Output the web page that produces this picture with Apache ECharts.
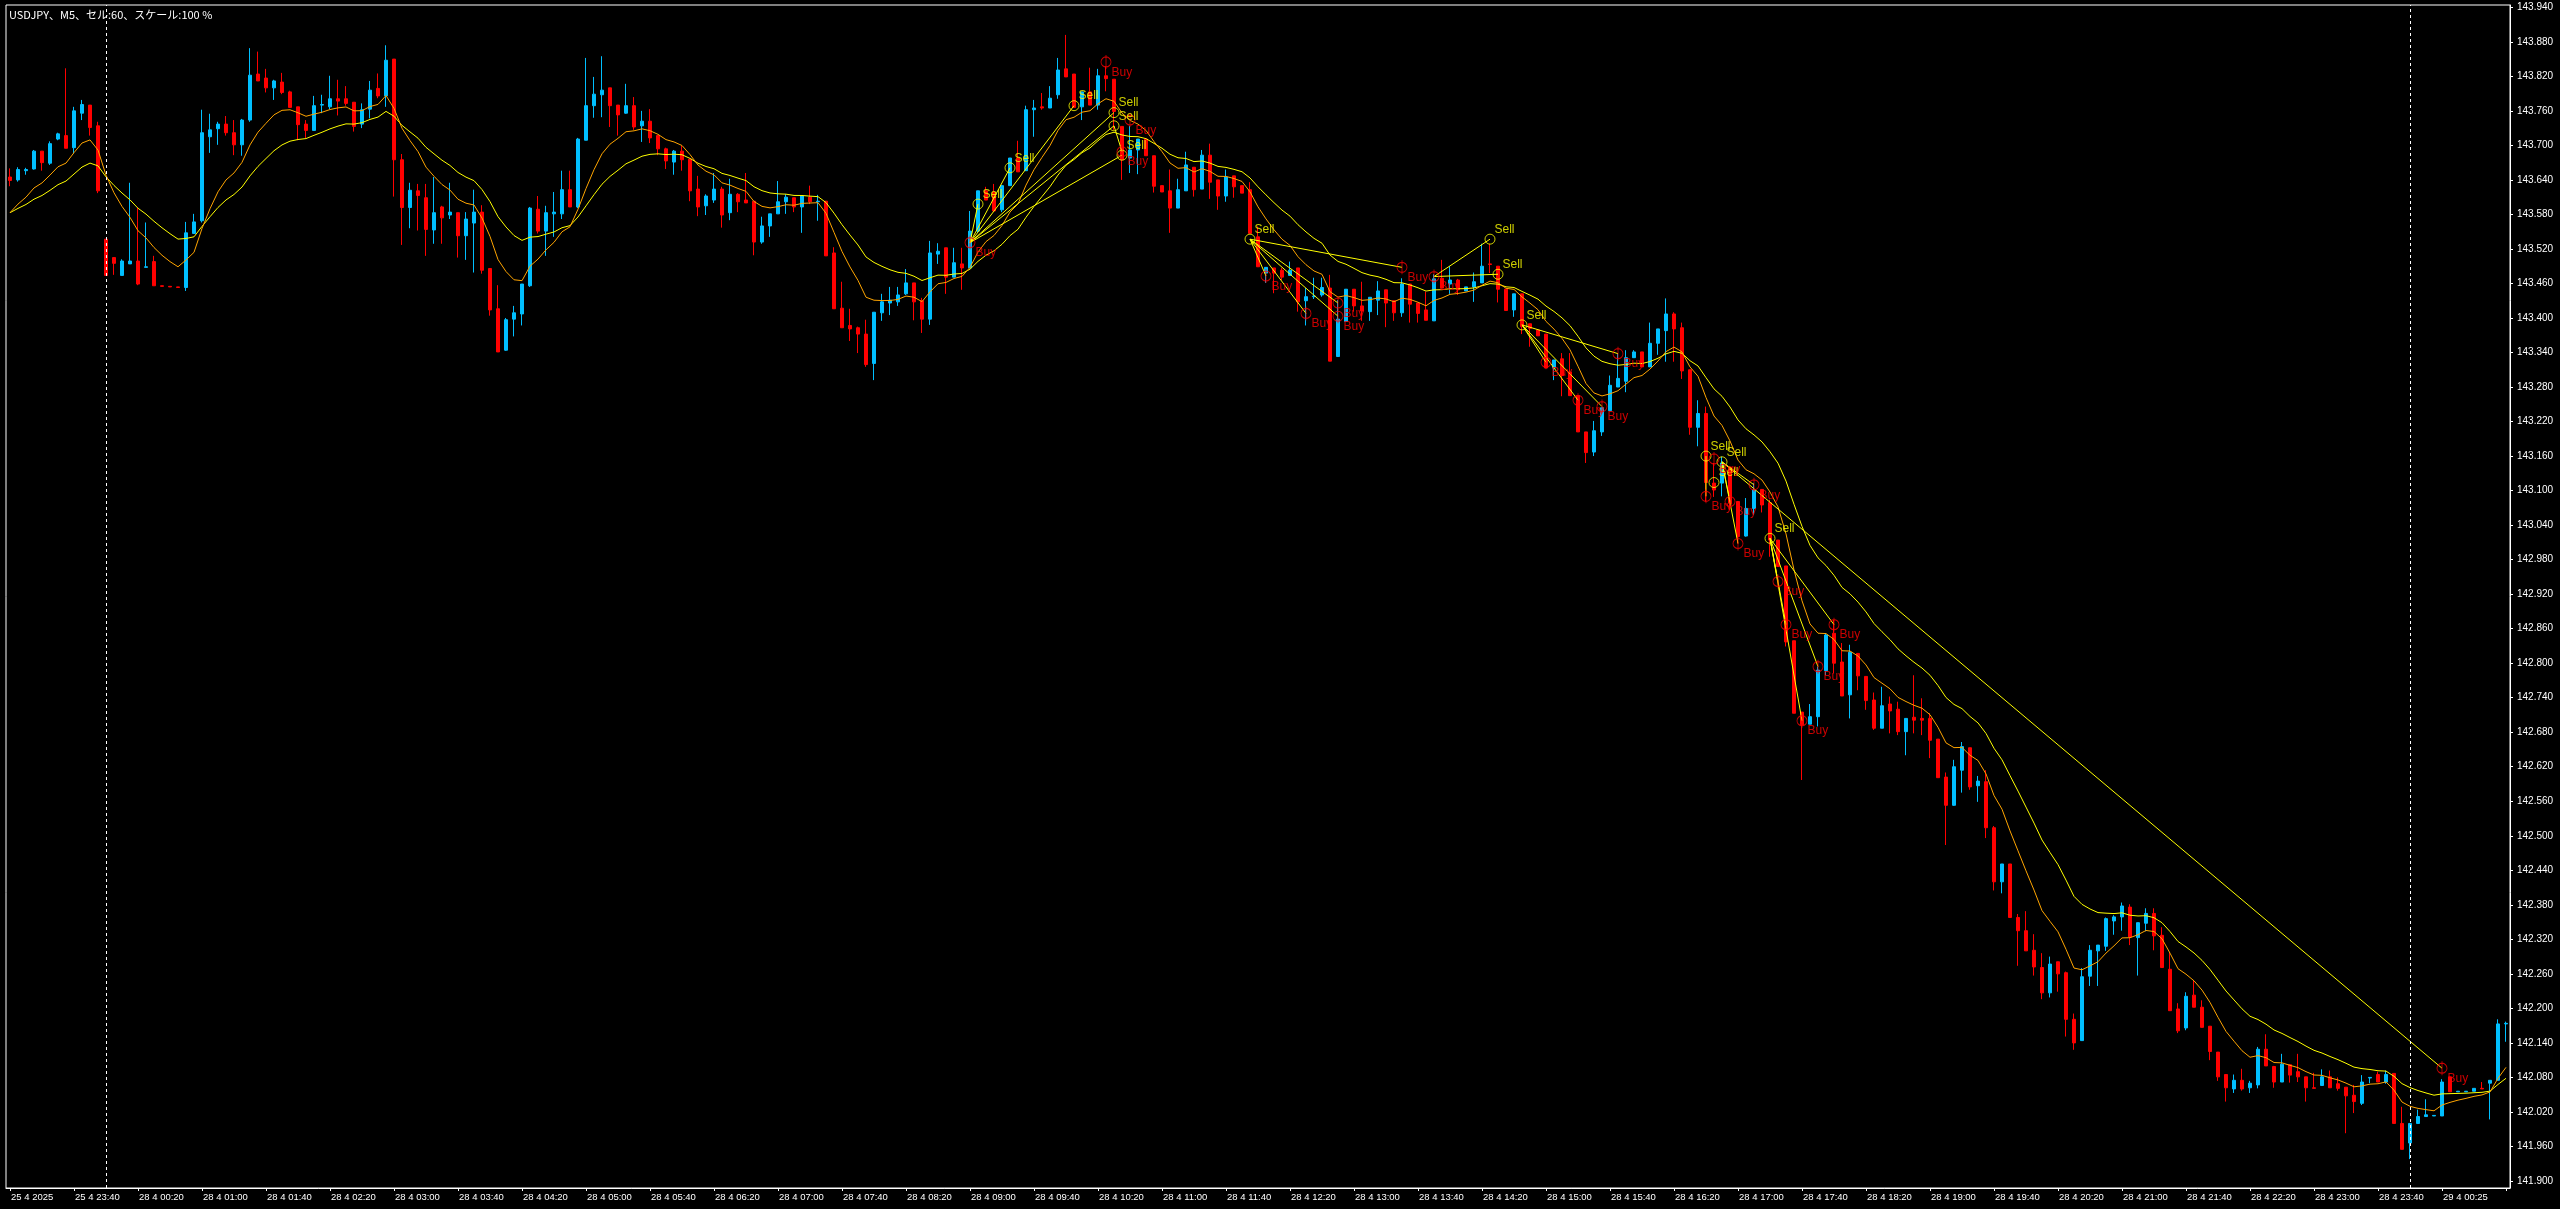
<!DOCTYPE html>
<html><head><meta charset="utf-8">
<script src="https://cdn.jsdelivr.net/npm/echarts@6.0.0/dist/echarts.min.js"></script>
<style>html,body{margin:0;padding:0;background:#000;overflow:hidden}#c{width:2560px;height:1209px}</style>
</head><body><div id="c"></div>
<script>
const titleText = 'USDJPY、M5、セル:60、スケール:100 %';
const tickLabels = ['25 4 2025','25 4 23:40','28 4 00:20','28 4 01:00','28 4 01:40','28 4 02:20','28 4 03:00','28 4 03:40','28 4 04:20','28 4 05:00','28 4 05:40','28 4 06:20','28 4 07:00','28 4 07:40','28 4 08:20','28 4 09:00','28 4 09:40','28 4 10:20','28 4 11:00','28 4 11:40','28 4 12:20','28 4 13:00','28 4 13:40','28 4 14:20','28 4 15:00','28 4 15:40','28 4 16:20','28 4 17:00','28 4 17:40','28 4 18:20','28 4 19:00','28 4 19:40','28 4 20:20','28 4 21:00','28 4 21:40','28 4 22:20','28 4 23:00','28 4 23:40','29 4 00:25'];
const priceTicks = [141.900,141.960,142.020,142.080,142.140,142.200,142.260,142.320,142.380,142.440,142.500,142.560,142.620,142.680,142.740,142.800,142.860,142.920,142.980,143.040,143.100,143.160,143.220,143.280,143.340,143.400,143.460,143.520,143.580,143.640,143.700,143.760,143.820,143.880,143.940];

const opens = [
143.645,143.640,143.656,143.659,143.690,143.669,143.711,143.717,143.696,143.756,
143.770,143.734,143.537,143.505,143.474,143.494,143.499,143.488,143.498,143.456,
143.455,143.454,143.453,143.547,143.569,143.715,143.729,143.737,143.722,143.701,
143.744,143.824,143.817,143.800,143.810,143.793,143.767,143.737,143.726,143.770,
143.767,143.781,143.781,143.775,143.737,143.763,143.799,143.786,143.850,143.675,
143.592,143.621,143.609,143.553,143.593,143.579,143.583,143.543,143.565,143.584,
143.486,143.416,143.344,143.398,143.407,143.456,143.589,143.551,143.581,143.581,
143.623,143.593,143.709,143.769,143.788,143.800,143.770,143.756,143.769,143.734,
143.742,143.717,143.694,143.671,143.690,143.676,143.624,143.595,143.605,143.624,
143.583,143.615,143.605,143.603,143.532,143.560,143.581,143.602,143.609,143.593,
143.610,143.602,143.603,143.513,143.417,143.387,143.383,143.372,143.321,143.409,
143.426,143.428,143.442,143.461,143.430,143.398,143.511,143.522,143.471,143.494,
143.487,143.551,143.621,143.619,143.588,143.630,143.678,143.656,143.762,143.767,
143.765,143.788,143.833,143.824,143.767,143.793,143.770,143.821,143.815,143.733,
143.678,143.692,143.711,143.682,143.630,143.621,143.591,143.621,143.662,143.624,
143.683,143.640,143.612,143.647,143.630,143.623,143.541,143.478,143.487,143.483,
143.474,143.487,143.430,143.437,143.440,143.452,143.333,143.394,143.450,143.421,
143.411,143.431,143.449,143.430,143.409,143.459,143.426,143.414,143.395,143.469,
143.459,143.466,143.447,143.454,143.461,143.494,143.490,143.450,143.414,143.442,
143.390,143.379,143.372,143.313,143.329,143.306,143.265,143.202,143.167,143.202,
143.239,143.280,143.290,143.331,143.341,143.315,143.356,143.378,143.407,143.383,
143.310,143.210,143.234,143.113,143.113,143.141,143.081,143.021,143.069,143.102,
143.079,143.014,142.969,142.839,142.715,142.694,142.707,142.787,142.852,142.802,
142.745,142.817,142.777,142.736,142.687,142.729,142.720,142.681,142.706,142.704,
142.704,142.668,142.602,142.553,142.614,142.653,142.587,142.594,142.514,142.420,
142.451,142.358,142.335,142.301,142.271,142.227,142.281,142.262,142.181,142.144,
142.256,142.300,142.308,142.352,142.359,142.376,142.323,142.348,142.365,142.327,
142.268,142.199,142.166,142.223,142.202,142.169,142.124,142.085,142.060,142.075,
142.062,142.067,142.129,142.099,142.072,142.102,142.090,142.081,142.062,142.066,
142.081,142.069,142.063,142.049,142.035,142.079,142.085,142.072,142.087,142.000,
141.966,142.000,142.012,142.013,142.013,142.081,142.055,142.055,142.056,142.061,
142.070,142.075,142.173];

const highs = [
143.660,143.662,143.661,143.692,143.690,143.707,143.722,143.834,143.767,143.779,
143.770,143.741,143.537,143.505,143.502,143.635,143.592,143.566,143.508,143.456,
143.455,143.454,143.567,143.581,143.762,143.755,143.741,143.751,143.744,143.746,
143.869,143.863,143.833,143.814,143.826,143.795,143.767,143.744,143.786,143.788,
143.821,143.814,143.803,143.775,143.773,143.812,143.825,143.874,143.850,143.685,
143.635,143.633,143.633,143.645,143.595,143.635,143.583,143.584,143.623,143.596,
143.486,143.457,143.400,143.421,143.459,143.593,143.612,143.595,143.619,143.656,
143.656,143.713,143.852,143.819,143.855,143.800,143.770,143.807,143.784,143.760,
143.763,143.717,143.696,143.692,143.699,143.676,143.647,143.615,143.652,143.628,
143.642,143.617,143.652,143.603,143.576,143.581,143.638,143.615,143.609,143.612,
143.630,143.614,143.603,143.523,143.463,143.416,143.385,143.397,143.410,143.442,
143.454,143.454,143.485,143.461,143.435,143.534,143.530,143.522,143.522,143.522,
143.586,143.621,143.628,143.633,143.630,143.678,143.708,143.769,143.779,143.791,
143.803,143.852,143.892,143.824,143.793,143.835,143.833,143.837,143.815,143.733,
143.734,143.711,143.711,143.682,143.630,143.658,143.642,143.689,143.662,143.692,
143.703,143.640,143.658,143.647,143.630,143.636,143.559,143.488,143.487,143.487,
143.498,143.487,143.452,143.470,143.470,143.475,143.431,143.450,143.450,143.463,
143.436,143.464,143.449,143.430,143.469,143.459,143.426,143.446,143.476,143.501,
143.490,143.468,143.454,143.479,143.529,143.529,143.490,143.450,143.442,143.442,
143.390,143.379,143.372,143.327,143.339,143.339,143.265,143.202,143.221,143.244,
143.300,143.339,143.344,143.344,143.341,143.392,143.381,143.434,143.410,143.392,
143.310,143.257,143.246,143.148,143.159,143.141,143.081,143.087,143.113,143.102,
143.084,143.014,142.969,142.839,142.715,142.729,142.794,142.852,142.875,142.835,
142.832,142.817,142.777,142.749,142.759,142.742,142.733,142.704,142.779,142.739,
142.713,142.668,142.610,142.632,142.663,142.653,142.604,142.614,142.517,142.451,
142.451,142.364,142.369,142.329,142.296,142.290,142.281,142.264,142.191,142.270,
142.310,142.310,142.358,142.362,142.384,142.381,142.349,142.374,142.374,142.341,
142.298,142.209,142.228,142.249,142.214,142.169,142.124,142.085,142.085,142.095,
142.074,142.133,142.155,142.100,142.121,142.102,142.121,142.081,142.088,142.094,
142.092,142.080,142.063,142.067,142.084,142.080,142.090,142.092,142.087,142.029,
142.000,142.024,142.042,142.014,142.077,142.081,142.056,142.056,142.061,142.072,
142.075,142.181,142.177];

const lows = [
143.629,143.637,143.649,143.658,143.656,143.666,143.709,143.695,143.686,143.744,
143.717,143.617,143.474,143.475,143.474,143.494,143.457,143.488,143.456,143.455,
143.454,143.453,143.447,143.547,143.566,143.687,143.701,143.717,143.683,143.682,
143.741,143.812,143.792,143.779,143.789,143.766,143.709,143.713,143.726,143.756,
143.763,143.752,143.769,143.724,143.730,143.747,143.782,143.767,143.611,143.527,
143.556,143.552,143.508,143.529,143.529,143.572,143.505,143.501,143.479,143.477,
143.404,143.341,143.343,143.368,143.387,143.454,143.547,143.508,143.541,143.572,
143.593,143.591,143.709,143.748,143.749,143.732,143.717,143.755,143.727,143.706,
143.704,143.683,143.659,143.649,143.656,143.603,143.577,143.579,143.600,143.557,
143.570,143.584,143.600,143.509,143.529,143.541,143.581,143.581,143.584,143.548,
143.598,143.569,143.508,143.416,143.383,143.360,143.339,143.315,143.292,143.395,
143.405,143.421,143.440,143.396,143.374,143.388,143.494,143.442,143.471,143.449,
143.487,143.548,143.605,143.586,143.584,143.630,143.654,143.656,143.715,143.762,
143.765,143.781,143.819,143.766,143.744,143.770,143.762,143.794,143.727,143.640,
143.652,143.650,143.682,143.618,143.619,143.548,143.591,143.621,143.611,143.624,
143.607,143.588,143.602,143.609,143.617,143.547,143.489,143.461,143.443,143.466,
143.474,143.411,143.387,143.433,143.437,143.325,143.333,143.394,143.411,143.395,
143.395,143.405,143.384,143.395,143.402,143.392,143.392,143.396,143.395,143.452,
143.442,143.440,143.447,143.428,143.461,143.478,143.427,143.413,143.402,143.372,
143.350,143.369,143.313,143.292,143.264,143.265,143.202,143.148,143.160,143.195,
143.239,143.280,143.271,143.331,143.315,143.315,143.336,143.324,143.324,143.294,
143.197,143.177,143.081,143.089,143.090,143.066,143.008,143.020,143.058,143.062,
142.985,142.968,142.829,142.713,142.597,142.694,142.690,142.779,142.782,142.743,
142.704,142.753,142.719,142.684,142.687,142.678,142.675,142.640,142.678,142.675,
142.635,142.601,142.484,142.552,142.575,142.580,142.559,142.496,142.405,142.400,
142.358,142.274,142.300,142.257,142.216,142.219,142.229,142.151,142.128,142.144,
142.239,142.239,142.300,142.328,142.335,142.310,142.257,142.334,142.301,142.271,
142.196,142.157,142.162,142.202,142.167,142.110,142.074,142.038,142.053,142.057,
142.053,142.061,142.100,142.062,142.072,142.071,142.072,142.038,142.061,142.066,
142.062,142.057,141.983,142.018,142.032,142.070,142.072,142.069,142.000,141.955,
141.938,141.999,142.012,142.013,142.013,142.055,142.055,142.055,142.056,142.060,
142.007,142.075,142.142];

const closes = [
143.639,143.658,143.658,143.690,143.670,143.703,143.720,143.695,143.760,143.771,
143.731,143.621,143.474,143.495,143.499,143.499,143.459,143.489,143.456,143.455,
143.454,143.453,143.548,143.567,143.722,143.727,143.737,143.722,143.701,143.744,
143.822,143.812,143.800,143.812,143.792,143.766,143.736,143.726,143.769,143.771,
143.781,143.777,143.773,143.733,143.762,143.796,143.786,143.848,143.675,143.592,
143.622,143.613,143.554,143.583,143.574,143.584,143.543,143.572,143.584,143.483,
143.414,143.341,143.397,143.409,143.459,143.591,143.551,143.583,143.584,143.623,
143.593,143.711,143.769,143.789,143.796,143.769,143.753,143.769,143.732,143.742,
143.713,143.694,143.673,143.690,143.675,143.621,143.593,143.612,143.624,143.579,
143.615,143.602,143.600,143.532,143.560,143.581,143.602,143.610,143.593,143.612,
143.602,143.603,143.508,143.416,143.383,143.381,143.372,143.319,143.410,143.428,
143.431,143.440,143.461,143.428,143.398,143.513,143.516,143.471,143.496,143.487,
143.551,143.621,143.605,143.586,143.630,143.678,143.654,143.762,143.765,143.765,
143.782,143.831,143.819,143.766,143.793,143.770,143.821,143.816,143.759,143.675,
143.692,143.711,143.682,143.629,143.619,143.591,143.623,143.666,143.623,143.683,
143.636,143.612,143.645,143.628,143.617,143.547,143.489,143.488,143.478,143.471,
143.483,143.428,143.437,143.438,143.453,143.325,143.398,143.450,143.421,143.412,
143.436,143.447,143.426,143.409,143.459,143.424,143.408,143.396,143.468,143.452,
143.466,143.449,143.454,143.463,143.490,143.493,143.450,143.413,143.442,143.385,
143.382,143.369,143.313,143.327,143.300,143.265,143.202,143.166,143.204,143.244,
143.283,143.295,143.331,143.341,143.315,143.356,143.381,143.407,143.381,143.308,
143.210,143.234,143.114,143.101,143.148,143.078,143.020,143.069,143.101,143.075,
143.014,142.968,142.837,142.713,142.693,142.707,142.788,142.849,142.800,142.743,
142.819,142.778,142.735,142.687,142.726,142.717,142.681,142.704,142.701,142.701,
142.666,142.601,142.553,142.620,142.655,142.585,142.595,142.514,142.420,142.451,
142.358,142.335,142.300,142.272,142.227,142.277,142.260,142.181,142.140,142.255,
142.301,142.310,142.356,142.359,142.378,142.324,142.349,142.365,142.326,142.271,
142.196,142.161,142.221,142.202,142.167,142.125,142.081,142.062,142.075,142.060,
142.070,142.129,142.100,142.072,142.103,142.084,142.081,142.062,142.061,142.081,
142.062,142.061,142.048,142.038,142.072,142.080,142.072,142.085,142.000,141.955,
142.000,142.012,142.015,142.014,142.072,142.055,142.056,142.056,142.061,142.060,
142.075,142.173,142.174];

// moving-average settings (both lines start from the same value at the first bar)
const maStart = 143.583;
const fastAlpha = 0.2;   // orange
const slowAlpha = 0.1;   // yellow

const separators = [12, 300];

const sellPoints = [[121,143.598],[125,143.661],[133,143.769],[138,143.757],[138,143.734],[139,143.683],[155,143.537],[185,143.537],[186,143.476],[189,143.388],[212,143.160],[213,143.114],[214,143.150],[220,143.017]];
const buyPoints = [[120,143.531],[137,143.845],[139,143.689],[140,143.744],[157,143.473],[162,143.408],[166,143.426],[166,143.403],[174,143.488],[178,143.472],[192,143.323],[196,143.257],[199,143.246],[201,143.338],[212,143.090],[213,143.155],[215,143.081],[216,143.008],[218,143.110],[221,142.942],[222,142.867],[224,142.700],[226,142.794],[228,142.867],[304,142.096]];
const tradeLinks = [
[120,143.531,121,143.598],[120,143.531,125,143.661],[120,143.531,133,143.769],[120,143.531,138,143.757],[120,143.531,138,143.734],[120,143.531,139,143.683],[138,143.734,139,143.689],
[155,143.537,157,143.473],[155,143.537,162,143.408],[155,143.537,166,143.426],[155,143.537,166,143.403],[155,143.537,174,143.488],
[178,143.472,185,143.537],[178,143.472,186,143.476],
[189,143.388,192,143.323],[189,143.388,196,143.257],[189,143.388,199,143.246],[189,143.388,201,143.338],
[212,143.160,212,143.090],[214,143.150,215,143.081],[214,143.150,216,143.008],[214,143.150,218,143.110],[214,143.150,304,142.096],
[220,143.017,221,142.942],[220,143.017,222,142.867],[220,143.017,224,142.700],[220,143.017,226,142.794],[220,143.017,228,142.867]
];

function ema(src, alpha, seed){
  const out = []; let e = seed;
  for (let i = 0; i < src.length; i++){ if (i > 0) e = e + alpha * (src[i] - e); out.push(+e.toFixed(4)); }
  return out;
}

const cats = opens.map((_, i) => String(i));
const candles = opens.map((o, i) => [o, closes[i], lows[i], highs[i]]);
const fastMA = ema(closes, fastAlpha, maStart);
const slowMA = ema(closes, slowAlpha, maStart);
const FONT = 'Liberation Sans, Arial, sans-serif';

const series = [
  { type:'candlestick', data:candles, barWidth:4, z:2,
    itemStyle:{ color:'#00bfff', color0:'#ff0000', borderColor:'#00bfff', borderColor0:'#ff0000', borderWidth:1 },
    markLine:{ silent:true, symbol:['none','none'], label:{show:false},
      lineStyle:{ color:'#ffffff', type:[3,3], width:1 },
      data: separators.map(i => ({ xAxis: String(i) })) } },
  { type:'line', data:slowMA, showSymbol:false, symbol:'none', z:3, silent:true,
    lineStyle:{ color:'#ffff00', width:1 } },
  { type:'line', data:fastMA, showSymbol:false, symbol:'none', z:3, silent:true,
    lineStyle:{ color:'#ffa500', width:1 } }
];
tradeLinks.forEach(t => series.push({ type:'line', data:[[t[0],t[1]],[t[2],t[3]]], symbol:'none', z:4, silent:true,
  lineStyle:{ color:'#ffff00', width:1 } }));
series.push({ type:'scatter', data:sellPoints, symbol:'circle', symbolSize:10, z:5, silent:true,
  itemStyle:{ color:'rgba(0,0,0,0)', borderColor:'#ffff00', borderWidth:1 },
  label:{ show:true, formatter:'Sell', position:[10,-4], align:'left', verticalAlign:'middle', color:'#ffff00', fontSize:12, fontFamily:FONT } });
series.push({ type:'scatter', data:buyPoints, symbol:'path://M5,-2L5,12M0,5A5,5,0,1,1,10,5A5,5,0,1,1,0,5', symbolSize:[10,14], z:5, silent:true,
  itemStyle:{ color:'rgba(0,0,0,0)', borderColor:'#ff0000', borderWidth:1 },
  label:{ show:true, formatter:'Buy', position:[11,18], align:'left', verticalAlign:'middle', color:'#ff0000', fontSize:12, fontFamily:FONT } });

const chart = echarts.init(document.getElementById('c'));
chart.setOption({
  backgroundColor:'#000000',
  animation:false,
  grid:{ left:6, right:50, top:5, bottom:21, show:true, borderColor:'#ffffff', borderWidth:1, backgroundColor:'#000000' },
  xAxis:{ type:'category', data:cats, boundaryGap:true,
    axisLine:{ show:true, lineStyle:{ color:'#ffffff', width:1 } },
    axisTick:{ show:true, alignWithLabel:true, interval:(i)=> i % 8 === 0, length:3, lineStyle:{ color:'#ffffff' } },
    axisLabel:{ show:true, interval:(i)=> i % 8 === 0, formatter:(v, i)=> tickLabels[i/8] || '', color:'#ffffff', fontSize:9.5, fontFamily:FONT, align:'left', margin:4, padding:[0,0,0,1] },
    splitLine:{ show:false } },
  yAxis:{ type:'value', position:'right', min:141.8878, max:143.944,
    axisLine:{ show:true, lineStyle:{ color:'#ffffff', width:1 } },
    axisTick:{ show:true, length:3, customValues:priceTicks, lineStyle:{ color:'#ffffff' } },
    axisLabel:{ show:true, customValues:priceTicks, formatter:(v)=> Number(v).toFixed(3), color:'#ffffff', fontSize:10, fontFamily:FONT, margin:7 },
    splitLine:{ show:false } },
  graphic:[{ type:'text', left:9, top:9, silent:true, style:{ text:titleText, fill:'#ffffff', font:'11px "Noto Sans CJK JP"' } }],
  series
});
</script>
</body></html>
